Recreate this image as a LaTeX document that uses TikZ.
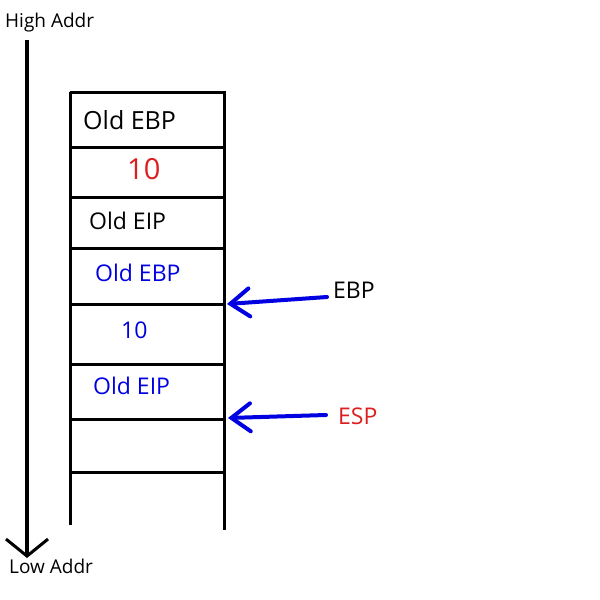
\documentclass[tikz,border=0pt]{standalone}
\usepackage{fontspec}
\setmainfont{Open Sans}
\usetikzlibrary{arrows.meta}
\definecolor{myred}{RGB}{220,30,30}
\definecolor{myblue}{RGB}{0,0,225}
\begin{document}
\begin{tikzpicture}[x=1pt,y=-1pt,
  lbl/.style={anchor=base west,inner sep=0pt,font=\fontsize{#1}{#1}\selectfont},
  lbl/.default=24,
  stackline/.style={line width=3pt,black},
  ptr/.style={line width=4pt,myblue,line cap=round,-{Straight Barb[length=19pt,width=28pt,line cap=round]}}]
\useasboundingbox (0,0) rectangle (600,600);
% axis
\node[lbl=19] (high) at (5,27) {High Addr};
\node[lbl=19] (low) at (9,573) {Low Addr};
\coordinate (axtop) at (27,40);
\coordinate (axbot) at (27,558);
\draw[line width=4pt,-{Straight Barb[length=17pt,width=42pt,line width=3pt]}] (axtop) -- (axbot);
% stack
\draw[stackline] (70,92) -- (70,525);
\draw[stackline] (224,92) -- (224,530);
\foreach \y in {92,147,197,248,304,364,419,472}
  \draw[stackline] (70,\y) -- (226,\y);
\node[lbl=25] (oebp1) at (83,129) {Old EBP};
\node[lbl=29,text=myred] (ten1) at (127,179) {10};
\node[lbl=23] (oeip1) at (89,229) {Old EIP};
\node[lbl=23,text=myblue] (oebp2) at (95,281) {Old EBP};
\node[lbl=23,text=myblue] (ten2) at (121,338) {10};
\node[lbl=23,text=myblue] (oeip2) at (93,394) {Old EIP};
% pointers
\node[lbl=23] (ebp) at (333,298) {EBP};
\node[lbl=23,text=myred] (esp) at (338,424) {ESP};
\coordinate (ebptail) at (327,297);
\coordinate (ebphead) at (227,304);
\coordinate (esptail) at (326,415);
\coordinate (esphead) at (228,418);
\draw[ptr] (ebptail) -- (ebphead);
\draw[ptr] (esptail) -- (esphead);
\end{tikzpicture}
\end{document}
